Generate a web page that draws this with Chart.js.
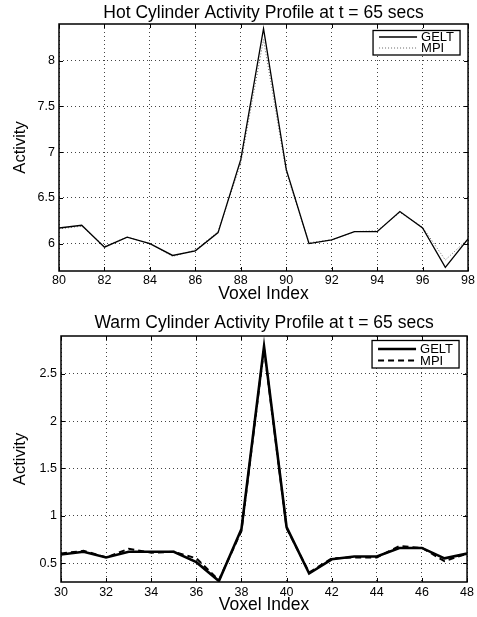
<!DOCTYPE html>
<html>
<head>
<meta charset="utf-8">
<script src="https://cdn.jsdelivr.net/npm/chart.js@4.4.1/dist/chart.umd.min.js"></script>
<style>
  html, body { margin: 0; padding: 0; background: #fff; }
  #wrap { position: relative; width: 477px; height: 617px; }
  canvas { position: absolute; left: 0; }
  #hotChart { top: 0; }
  #warmChart { top: 302px; }
</style>
</head>
<body>
<div id="wrap">
  <canvas id="hotChart" width="477" height="302"></canvas>
  <canvas id="warmChart" width="477" height="315"></canvas>
</div>
<script>
// hot cylinder profile, voxels 80..98
const hotVoxels = [80, 81, 82, 83, 84, 85, 86, 87, 88, 89, 90, 91, 92, 93, 94, 95, 96, 97, 98];
const hotGelt   = [6.17, 6.20, 5.96, 6.07, 6.00, 5.87, 5.92, 6.12, 6.92, 8.35, 6.81, 6.00, 6.04, 6.13, 6.13, 6.35, 6.17, 5.74, 6.05];
const hotMpi    = [6.16, 6.19, 5.97, 6.07, 6.00, 5.86, 5.93, 6.13, 6.88, 8.23, 6.78, 6.01, 6.04, 6.13, 6.14, 6.34, 6.18, 5.82, 6.05];
const hotXTicks = [80, 82, 84, 86, 88, 90, 92, 94, 96, 98];
const hotYTicks = [6, 6.5, 7, 7.5, 8];

// warm cylinder profile, voxels 30..48
const warmVoxels = [30, 31, 32, 33, 34, 35, 36, 37, 38, 39, 40, 41, 42, 43, 44, 45, 46, 47, 48];
const warmGelt   = [0.59, 0.62, 0.56, 0.62, 0.62, 0.62, 0.51, 0.31, 0.86, 2.79, 0.88, 0.39, 0.54, 0.57, 0.57, 0.66, 0.66, 0.55, 0.60];
const warmMpi    = [0.60, 0.63, 0.56, 0.65, 0.61, 0.62, 0.55, 0.32, 0.84, 2.77, 0.87, 0.40, 0.55, 0.56, 0.56, 0.68, 0.66, 0.52, 0.60];
const warmXTicks = [30, 32, 34, 36, 38, 40, 42, 44, 46, 48];
const warmYTicks = [0.5, 1, 1.5, 2, 2.5];

const FONT = "'Liberation Sans', Arial, Helvetica, sans-serif";
Chart.defaults.font.family = FONT;
Chart.defaults.color = '#000';

// MATLAB-ish box: frame, inward tick marks and a framed legend
const matlabFrame = {
    id: 'matlabFrame',
    afterDatasetsDraw(chart, args, opts) {
        const { ctx, chartArea: a, scales } = chart;
        const len = 4;
        ctx.save();
        ctx.strokeStyle = '#000';
        ctx.lineWidth = 1;
        ctx.beginPath();
        scales.x.ticks.forEach(t => {
            const px = Math.round(scales.x.getPixelForValue(t.value)) + 0.5;
            ctx.moveTo(px, a.bottom); ctx.lineTo(px, a.bottom - len);
            ctx.moveTo(px, a.top); ctx.lineTo(px, a.top + len);
        });
        scales.y.ticks.forEach(t => {
            const py = Math.round(scales.y.getPixelForValue(t.value)) + 0.5;
            ctx.moveTo(a.left, py); ctx.lineTo(a.left + len, py);
            ctx.moveTo(a.right, py); ctx.lineTo(a.right - len, py);
        });
        ctx.stroke();

        ctx.lineWidth = 1.5;
        ctx.strokeRect(a.left, a.top, a.right - a.left, a.bottom - a.top);

        // legend box
        const L = opts.legend;
        const bx = a.right - L.right;
        const by = a.top + L.top;
        ctx.fillStyle = '#fff';
        ctx.fillRect(bx, by, L.width, L.height);
        ctx.lineWidth = 1.3;
        ctx.strokeRect(bx, by, L.width, L.height);
        ctx.font = L.fontSize + 'px ' + FONT;
        ctx.textBaseline = 'middle';
        ctx.textAlign = 'left';
        chart.data.datasets.forEach((ds, i) => {
            const ry = by + L.rows[i];
            ctx.beginPath();
            ctx.strokeStyle = ds.borderColor;
            ctx.lineWidth = ds.borderWidth;
            ctx.setLineDash(ds.borderDash || []);
            ctx.moveTo(bx + 6, ry);
            ctx.lineTo(bx + 44, ry);
            ctx.stroke();
            ctx.setLineDash([]);
            ctx.fillStyle = '#000';
            ctx.fillText(ds.label, bx + 48, ry + 0.5);
        });
        ctx.restore();
    }
};

function buildChart(canvasId, cfg)
{
    const ctx = document.getElementById(canvasId).getContext('2d');
    return new Chart(ctx, {
        type: 'line',
        data: {
            datasets: [
                {
                    label: 'GELT',
                    data: cfg.voxels.map((v, i) => ({ x: v, y: cfg.gelt[i] })),
                    borderColor: '#000',
                    borderWidth: cfg.geltWidth,
                    pointRadius: 0,
                    tension: 0,
                    fill: false
                },
                {
                    label: 'MPI',
                    data: cfg.voxels.map((v, i) => ({ x: v, y: cfg.mpi[i] })),
                    borderColor: cfg.mpiColor,
                    borderWidth: cfg.mpiWidth,
                    borderDash: cfg.mpiDash,
                    pointRadius: 0,
                    tension: 0,
                    fill: false
                }
            ]
        },
        options: {
            responsive: false,
            animation: false,
            layout: { padding: { left: 0, right: 7, top: 0, bottom: 0 } },
            plugins: {
                legend: { display: false },
                tooltip: { enabled: false },
                title: {
                    display: true,
                    fullSize: false,
                    text: cfg.title,
                    color: '#000',
                    font: { size: 17.5, weight: 'normal' },
                    padding: cfg.titlePad
                },
                matlabFrame: { legend: cfg.legend }
            },
            scales: {
                x: {
                    type: 'linear',
                    min: cfg.xMin,
                    max: cfg.xMax,
                    afterBuildTicks: s => { s.ticks = cfg.xTicks.map(v => ({ value: v })); },
                    afterFit: s => { s.height = cfg.xAxisHeight; },
                    ticks: { color: '#000', font: { size: 12.5 }, padding: cfg.xTickPad, maxRotation: 0, autoSkip: false, callback: v => String(v) },
                    grid: { color: '#444', lineWidth: 1, drawTicks: false },
                    border: { display: false, dash: [1, 3] },
                    title: { display: true, text: 'Voxel Index', color: '#000', font: { size: 17.5 }, padding: { top: 0, bottom: cfg.xTitlePad } }
                },
                y: {
                    type: 'linear',
                    min: cfg.yMin,
                    max: cfg.yMax,
                    afterBuildTicks: s => { s.ticks = cfg.yTicks.map(v => ({ value: v })); },
                    afterFit: s => { s.width = cfg.yAxisWidth; },
                    ticks: { color: '#000', font: { size: 12.5 }, padding: 4, callback: v => String(v) },
                    grid: { color: '#444', lineWidth: 1, drawTicks: false },
                    border: { display: false, dash: [1, 3] },
                    title: { display: true, text: 'Activity', color: '#000', font: { size: 16.5 }, padding: { top: 11, bottom: 0 } }
                }
            }
        },
        plugins: [matlabFrame]
    });
}

buildChart('hotChart', {
    title: 'Hot Cylinder Activity Profile at t = 65 secs',
    voxels: hotVoxels, gelt: hotGelt, mpi: hotMpi,
    xTicks: hotXTicks, yTicks: hotYTicks,
    xMin: 80, xMax: 98, yMin: 5.7, yMax: 8.4,
    geltWidth: 1.3, mpiWidth: 1, mpiColor: '#666', mpiDash: [1, 2],
    titlePad: { top: 2.5, bottom: 0.5 },
    xAxisHeight: 31, xTickPad: 2, xTitlePad: -2.5,
    yAxisWidth: 59,
    legend: { right: 95, top: 6.5, width: 87, height: 24.5, rows: [6.5, 17.5], fontSize: 13 }
});

buildChart('warmChart', {
    title: 'Warm Cylinder Activity Profile at t = 65 secs',
    voxels: warmVoxels, gelt: warmGelt, mpi: warmMpi,
    xTicks: warmXTicks, yTicks: warmYTicks,
    xMin: 30, xMax: 48, yMin: 0.3, yMax: 2.9,
    geltWidth: 2.6, mpiWidth: 2, mpiColor: '#000', mpiDash: [6, 4],
    titlePad: { top: 10.5, bottom: 2.5 },
    xAxisHeight: 35, xTickPad: 3, xTitlePad: 1,
    yAxisWidth: 61,
    legend: { right: 95, top: 4.5, width: 87, height: 27.5, rows: [8.5, 20], fontSize: 13 }
});
</script>
</body>
</html>
